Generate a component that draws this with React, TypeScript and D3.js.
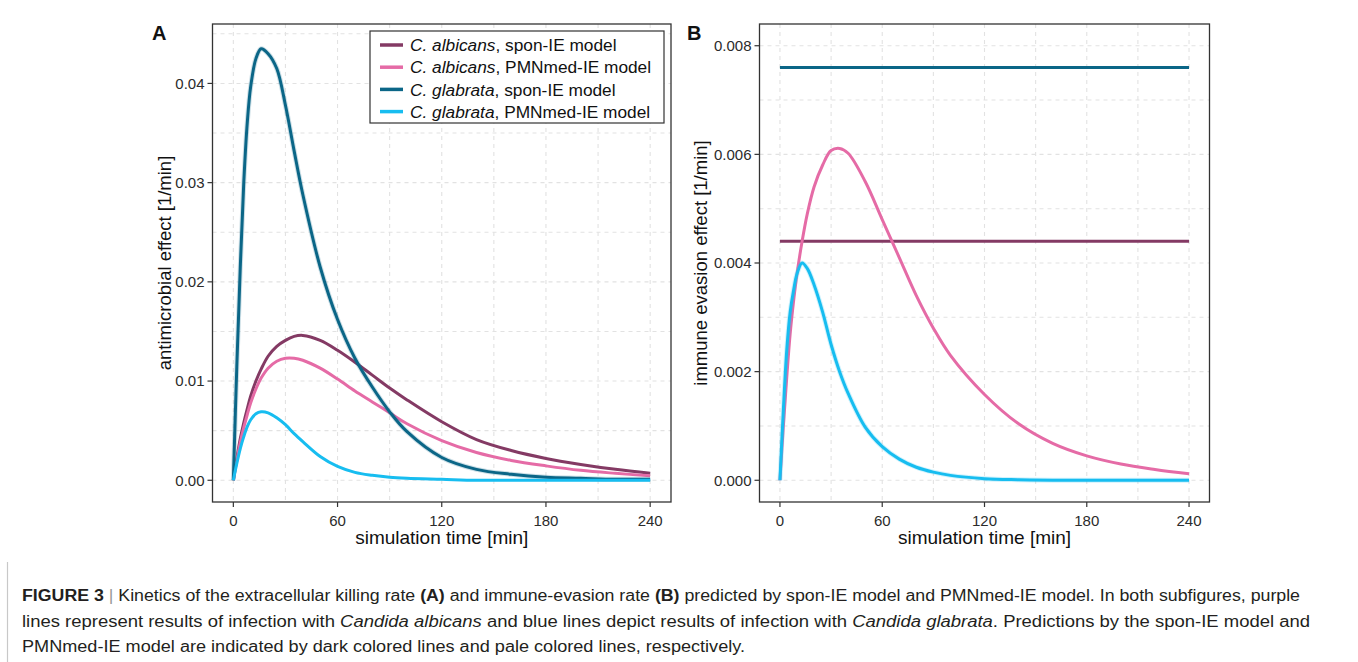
import React, { useEffect, useRef } from 'react';
import * as d3 from 'd3';

// sampled simulation times [min]
const timePoints = [0, 2, 4, 6, 8, 10, 13, 16, 20, 25, 30, 35, 40, 50, 60, 70, 80, 90, 100, 120, 140, 160, 180, 200, 220, 240];
const flatTimes = [0, 240];

// panel A: antimicrobial effect [1/min]
const albicansSponA = [0, 0.0022, 0.0042, 0.0058, 0.0072, 0.0085, 0.0100, 0.0112, 0.0125, 0.0135, 0.0141, 0.0145, 0.0146, 0.0141, 0.0131, 0.0119, 0.0106, 0.0093, 0.0081, 0.0059, 0.0041, 0.0030, 0.0022, 0.0016, 0.0011, 0.0007];
const albicansPmnA = [0, 0.0020, 0.0038, 0.0053, 0.0066, 0.0078, 0.0092, 0.0103, 0.0113, 0.0120, 0.0123, 0.0123, 0.0121, 0.0113, 0.0102, 0.0090, 0.0079, 0.0068, 0.0057, 0.0040, 0.0028, 0.0020, 0.00145, 0.00100, 0.0007, 0.00045];
const glabrataSponA = [0, 0.0115, 0.0215, 0.0300, 0.0360, 0.0397, 0.0425, 0.0435, 0.0430, 0.0415, 0.0378, 0.0332, 0.0288, 0.0215, 0.0162, 0.0123, 0.0094, 0.0069, 0.0049, 0.0023, 0.0011, 0.0006, 0.0003, 0.0002, 0.0001, 0.0001];
const glabrataPmnA = [0, 0.0017, 0.0032, 0.0044, 0.0054, 0.0061, 0.0067, 0.0069, 0.0068, 0.0063, 0.0056, 0.0047, 0.0039, 0.0024, 0.0014, 0.0008, 0.0005, 0.0003, 0.0002, 0.0001, 0, 0, 0, 0, 0, 0];

// panel B: immune evasion effect [1/min]
const albicansSponB = [0.0044, 0.0044];
const glabrataSponB = [0.0076, 0.0076];
const albicansPmnB = [0, 0.0010, 0.0019, 0.0027, 0.0033, 0.0038, 0.0044, 0.0049, 0.0054, 0.0058, 0.00607, 0.00611, 0.00602, 0.0055, 0.0048, 0.0041, 0.0034, 0.0028, 0.0023, 0.00158, 0.00104, 0.00068, 0.00045, 0.0003, 0.0002, 0.00012];
const glabrataPmnB = [0, 0.0013, 0.0024, 0.0031, 0.0035, 0.0038, 0.0040, 0.0039, 0.0036, 0.0031, 0.0025, 0.0020, 0.0016, 0.00098, 0.00062, 0.00039, 0.00024, 0.00015, 0.00009, 0.00003, 0.00001, 0, 0, 0, 0, 0];

const xTicks = [0, 60, 120, 180, 240];
const xMinorTicks = [30, 90, 150, 210];
const yTicksA = [0, 0.01, 0.02, 0.03, 0.04];
const yMinorA = [0.005, 0.015, 0.025, 0.035, 0.045];
const yTicksB = [0, 0.002, 0.004, 0.006, 0.008];
const yMinorB = [0.001, 0.003, 0.005, 0.007];

const speciesNames = ['C. albicans', 'C. albicans', 'C. glabrata', 'C. glabrata'];
const modelNames = ['spon-IE model', 'PMNmed-IE model', 'spon-IE model', 'PMNmed-IE model'];
const seriesColors = ['#843a64', '#e56ba6', '#0b6687', '#17bdf0'];

const FONT = "'Liberation Sans', Arial, Helvetica, sans-serif";

export default function App() {
  const ref = useRef<SVGSVGElement>(null);

  useEffect(() => {
    const svg = d3.select(ref.current);
    svg.selectAll('*').remove();

    svg.append('rect').attr('width', 1358).attr('height', 662).attr('fill', '#fff');

    const drawPanel = (cfg: any) => {
      const x = d3.scaleLinear().domain([-12, 252]).range([cfg.left, cfg.right]);
      const y = d3.scaleLinear().domain(cfg.yDomain).range([cfg.bottom, cfg.top]);
      const g = svg.append('g');

      // grid (major and minor share the same dashed look)
      const grid = g.append('g')
        .attr('stroke', '#e2e2e2')
        .attr('stroke-width', 1.1)
        .attr('stroke-dasharray', '4,4');
      [...xTicks, ...xMinorTicks].forEach(t => {
        grid.append('line').attr('x1', x(t)).attr('x2', x(t)).attr('y1', cfg.top).attr('y2', cfg.bottom);
      });
      [...cfg.yTicks, ...cfg.yMinor].forEach((t: number) => {
        grid.append('line').attr('x1', cfg.left).attr('x2', cfg.right).attr('y1', y(t)).attr('y2', y(t));
      });

      // series
      const line = d3.line<[number, number]>()
        .x(d => x(d[0]))
        .y(d => y(d[1]))
        .curve(d3.curveCatmullRom.alpha(0.5));
      cfg.series.forEach((s: any, i: number) => {
        const pts = s.times.map((t: number, k: number) => [t, s.values[k]] as [number, number]);
        if (s.halo) {
          g.append('path').attr('d', line(pts)).attr('fill', 'none')
            .attr('stroke', seriesColors[i]).attr('stroke-opacity', 0.2).attr('stroke-width', 5);
        }
        g.append('path')
          .attr('d', line(pts))
          .attr('fill', 'none')
          .attr('stroke', seriesColors[i])
          .attr('stroke-width', 3);
      });

      // border
      g.append('rect')
        .attr('x', cfg.left).attr('y', cfg.top)
        .attr('width', cfg.right - cfg.left).attr('height', cfg.bottom - cfg.top)
        .attr('fill', 'none').attr('stroke', '#333').attr('stroke-width', 1.3);

      // axes
      cfg.yTicks.forEach((t: number) => {
        g.append('line').attr('x1', cfg.left - 5).attr('x2', cfg.left).attr('y1', y(t)).attr('y2', y(t))
          .attr('stroke', '#333').attr('stroke-width', 1.2);
        g.append('text').attr('x', cfg.left - 8).attr('y', y(t)).attr('dy', '0.36em')
          .attr('text-anchor', 'end').style('font-family', FONT).style('font-size', '15px')
          .attr('fill', '#2b2b2b').text(cfg.yFormat(t));
      });
      xTicks.forEach(t => {
        g.append('line').attr('x1', x(t)).attr('x2', x(t)).attr('y1', cfg.bottom).attr('y2', cfg.bottom + 5)
          .attr('stroke', '#333').attr('stroke-width', 1.2);
        g.append('text').attr('x', x(t)).attr('y', cfg.bottom + 24)
          .attr('text-anchor', 'middle').style('font-family', FONT).style('font-size', '15px')
          .attr('fill', '#2b2b2b').text(t);
      });

      g.append('text')
        .attr('x', (cfg.left + cfg.right) / 2).attr('y', cfg.bottom + 42)
        .attr('text-anchor', 'middle').style('font-family', FONT).style('font-size', '19px')
        .attr('fill', '#111').text('simulation time [min]');

      g.append('text')
        .attr('transform', `translate(${cfg.titleX}, ${(cfg.top + cfg.bottom) / 2}) rotate(-90)`)
        .attr('dy', '0.36em')
        .attr('text-anchor', 'middle').style('font-family', FONT).style('font-size', '18.5px')
        .attr('fill', '#111').text(cfg.yTitle);

      g.append('text')
        .attr('x', cfg.labelX).attr('y', 40)
        .style('font-family', FONT).style('font-size', '20px').style('font-weight', 'bold')
        .attr('fill', '#111').text(cfg.label);
    };

    drawPanel({
      left: 212.5, right: 671, top: 24, bottom: 502,
      yDomain: [-0.00219, 0.04599],
      yTicks: yTicksA, yMinor: yMinorA,
      yFormat: d3.format('.2f'),
      yTitle: 'antimicrobial effect [1/min]', titleX: 164,
      label: 'A', labelX: 152,
      series: [
        { times: timePoints, values: albicansSponA },
        { times: timePoints, values: albicansPmnA },
        { times: timePoints, values: glabrataSponA, halo: true },
        { times: timePoints, values: glabrataPmnA },
      ],
    });

    drawPanel({
      left: 759.5, right: 1209.5, top: 24, bottom: 502,
      yDomain: [-0.0004, 0.0084],
      yTicks: yTicksB, yMinor: yMinorB,
      yFormat: d3.format('.3f'),
      yTitle: 'immune evasion effect [1/min]', titleX: 700,
      label: 'B', labelX: 687,
      series: [
        { times: flatTimes, values: albicansSponB },
        { times: timePoints, values: albicansPmnB },
        { times: flatTimes, values: glabrataSponB },
        { times: timePoints, values: glabrataPmnB, halo: true },
      ],
    });

    // legend
    const legend = svg.append('g');
    legend.append('rect')
      .attr('x', 370).attr('y', 31).attr('width', 294).attr('height', 92)
      .attr('fill', '#fff').attr('stroke', '#333').attr('stroke-width', 1.2);
    speciesNames.forEach((sp, i) => {
      const ly = 45 + i * 22.2;
      legend.append('line').attr('x1', 380).attr('x2', 403).attr('y1', ly).attr('y2', ly)
        .attr('stroke', seriesColors[i]).attr('stroke-width', 3.5);
      const t = legend.append('text').attr('x', 410).attr('y', ly).attr('dy', '0.36em')
        .style('font-family', FONT).style('font-size', '17.3px').attr('fill', '#111');
      t.append('tspan').style('font-style', 'italic').text(sp);
      t.append('tspan').text(`, ${modelNames[i]}`);
    });

    // caption
    svg.append('line').attr('x1', 7.5).attr('x2', 7.5).attr('y1', 562).attr('y2', 662)
      .attr('stroke', '#c8c8c8').attr('stroke-width', 1.2);

    const cap = svg.append('g').style('font-family', FONT).style('font-size', '16px').attr('fill', '#231f20');
    const l1 = cap.append('text').attr('x', 22).attr('y', 601).attr('textLength', 1278).attr('lengthAdjust', 'spacingAndGlyphs');
    l1.append('tspan').style('font-weight', 'bold').text('FIGURE 3');
    l1.append('tspan').attr('fill', '#999').text(' | ');
    l1.append('tspan').text('Kinetics of the extracellular killing rate ');
    l1.append('tspan').style('font-weight', 'bold').text('(A)');
    l1.append('tspan').text(' and immune-evasion rate ');
    l1.append('tspan').style('font-weight', 'bold').text('(B)');
    l1.append('tspan').text(' predicted by spon-IE model and PMNmed-IE model. In both subfigures, purple');

    const l2 = cap.append('text').attr('x', 22).attr('y', 627).attr('textLength', 1288).attr('lengthAdjust', 'spacingAndGlyphs');
    l2.append('tspan').text('lines represent results of infection with ');
    l2.append('tspan').style('font-style', 'italic').text('Candida albicans');
    l2.append('tspan').text(' and blue lines depict results of infection with ');
    l2.append('tspan').style('font-style', 'italic').text('Candida glabrata');
    l2.append('tspan').text('. Predictions by the spon-IE model and');

    cap.append('text').attr('x', 22).attr('y', 652).attr('textLength', 723).attr('lengthAdjust', 'spacingAndGlyphs')
      .text('PMNmed-IE model are indicated by dark colored lines and pale colored lines, respectively.');
  }, []);

  return (
    <svg ref={ref} width={1358} height={662} style={{ position: 'absolute', left: 0, top: 0 }} />
  );
}
